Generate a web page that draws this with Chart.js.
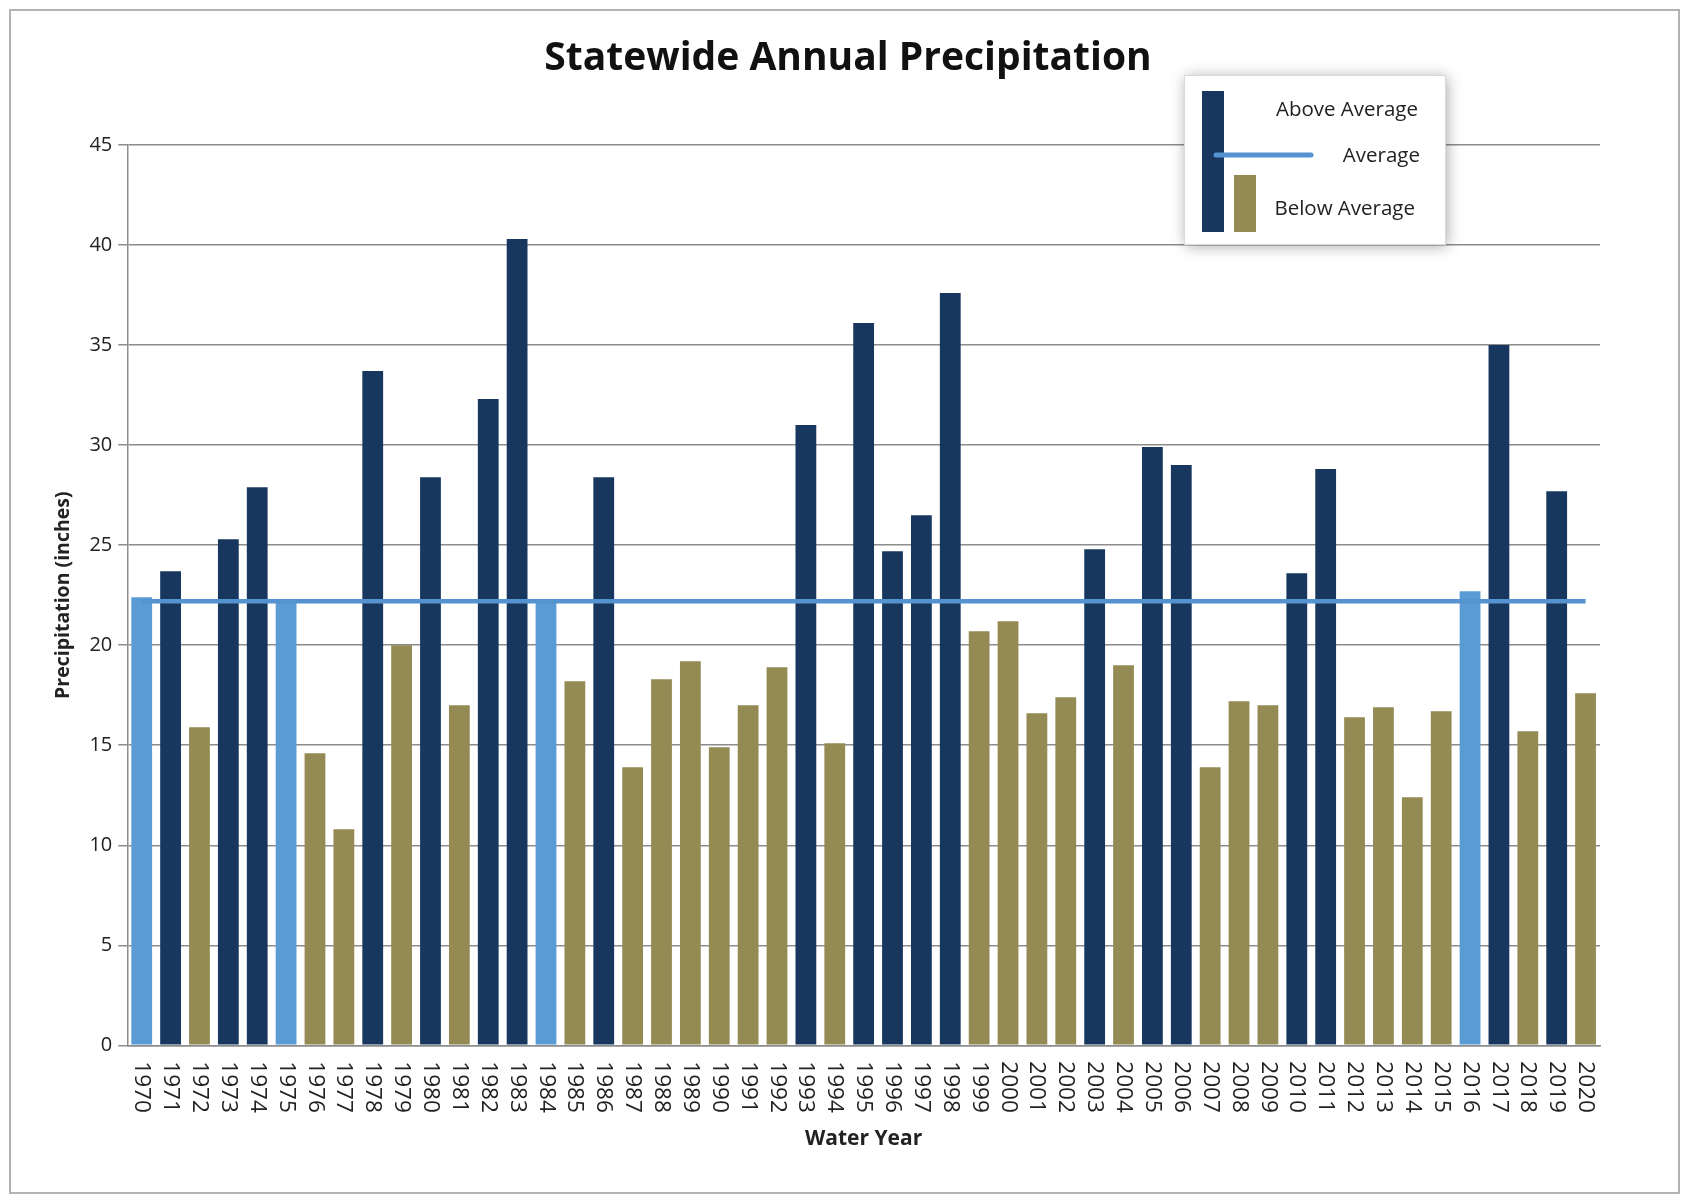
<!DOCTYPE html>
<html>
<head>
<meta charset="utf-8">
<script src="https://cdn.jsdelivr.net/npm/chart.js@4.4.1/dist/chart.umd.min.js"></script>
<style>
    body { margin: 0; background: #fff; }
    #wrap { position: relative; width: 1690px; height: 1196px; }
    #frame { position: absolute; left: 9px; top: 9px; width: 1667px; height: 1181px; border: 2px solid #b3b3b3; pointer-events: none; }
</style>
</head>
<body>
<div id="wrap"><canvas id="chartPrecip"></canvas><div id="frame"></div></div>
<script>
const years = ["1970", "1971", "1972", "1973", "1974", "1975", "1976", "1977", "1978", "1979",
    "1980", "1981", "1982", "1983", "1984", "1985", "1986", "1987", "1988", "1989",
    "1990", "1991", "1992", "1993", "1994", "1995", "1996", "1997", "1998", "1999",
    "2000", "2001", "2002", "2003", "2004", "2005", "2006", "2007", "2008", "2009",
    "2010", "2011", "2012", "2013", "2014", "2015", "2016", "2017", "2018", "2019", "2020"];
const precip = [22.4, 23.7, 15.9, 25.3, 27.9, 22.2, 14.6, 10.8, 33.7, 20.0,
    28.4, 17.0, 32.3, 40.3, 22.2, 18.2, 28.4, 13.9, 18.3, 19.2,
    14.9, 17.0, 18.9, 31.0, 15.1, 36.1, 24.7, 26.5, 37.6, 20.7,
    21.2, 16.6, 17.4, 24.8, 19.0, 29.9, 29.0, 13.9, 17.2, 17.0,
    23.6, 28.8, 16.4, 16.9, 12.4, 16.7, 22.7, 35.0, 15.7, 27.7, 17.6];
const average = 22.2;
const yTicks = [0, 5, 10, 15, 20, 25, 30, 35, 40, 45];

const colors = {
    above: '#17375E',
    below: '#948A54',
    near: '#5B9BD5',
    avgLine: '#5592D0',
    grid: '#8c8c8c'
};

// near-average years get the light blue bar
const barColors = precip.map(function (v) {
    if (Math.abs(v - average) < 0.6) { return colors.near; }
    return v > average ? colors.above : colors.below;
});

const fontFam = '"Open Sans", "DejaVu Sans", sans-serif';

// title drawn by hand so it centres on the whole frame
const titlePlugin = {
    id: 'frameTitle',
    afterDraw(chart) {
        const ctx = chart.ctx;
        ctx.save();
        ctx.fillStyle = '#111';
        ctx.font = 'bold 39px ' + fontFam;
        ctx.textAlign = 'center';
        ctx.textBaseline = 'middle';
        ctx.fillText('Statewide Annual Precipitation', 848, 59);
        ctx.restore();
    }
};

// year labels read top-to-bottom, so draw them ourselves
const yearLabelsPlugin = {
    id: 'yearLabels',
    afterDraw(chart) {
        const ctx = chart.ctx;
        const xs = chart.scales.x;
        const top = chart.chartArea.bottom + 16;
        ctx.save();
        ctx.fillStyle = '#222';
        ctx.font = '22.5px ' + fontFam;
        ctx.textAlign = 'left';
        ctx.textBaseline = 'middle';
        years.forEach(function (y, i) {
            const x = xs.getPixelForTick(i);
            ctx.save();
            ctx.translate(x, top);
            ctx.rotate(Math.PI / 2);
            ctx.fillText(y, 0, 0);
            ctx.restore();
        });
        ctx.restore();
    }
};

const boxLegendPlugin = {
    id: 'boxLegend',
    afterDraw(chart) {
        const ctx = chart.ctx;
        const bx = 1184, by = 75, bw = 261, bh = 169;
        ctx.save();
        ctx.shadowColor = 'rgba(0,0,0,0.35)';
        ctx.shadowBlur = 14;
        ctx.shadowOffsetX = 2;
        ctx.shadowOffsetY = 2;
        ctx.fillStyle = '#fff';
        ctx.fillRect(bx, by, bw, bh);
        ctx.restore();

        ctx.save();
        ctx.strokeStyle = '#d9d9d9';
        ctx.lineWidth = 1;
        ctx.strokeRect(bx + 0.5, by + 0.5, bw, bh);

        ctx.fillStyle = colors.above;
        ctx.fillRect(1202, 91, 22, 141);
        ctx.fillStyle = colors.below;
        ctx.fillRect(1234, 175, 22, 57);

        ctx.strokeStyle = colors.avgLine;
        ctx.lineWidth = 5;
        ctx.lineCap = 'round';
        ctx.beginPath();
        ctx.moveTo(1216, 155);
        ctx.lineTo(1311, 155);
        ctx.stroke();

        ctx.fillStyle = '#222';
        ctx.font = '20.5px ' + fontFam;
        ctx.textAlign = 'right';
        ctx.textBaseline = 'middle';
        ctx.fillText('Above Average', 1418, 110);
        ctx.fillText('Average', 1420, 156);
        ctx.fillText('Below Average', 1415, 209);
        ctx.restore();
    }
};

new Chart(document.getElementById('chartPrecip'), {
    type: 'bar',
    data: {
        labels: years,
        datasets: [
            {
                type: 'line',
                label: 'Average',
                data: years.map(function () { return average; }),
                borderColor: colors.avgLine,
                borderWidth: 4.5,
                pointRadius: 0,
                fill: false,
                order: 0
            },
            {
                label: 'Precipitation',
                data: precip,
                backgroundColor: barColors,
                borderWidth: 0,
                categoryPercentage: 1,
                barPercentage: 0.72,
                order: 1
            }
        ]
    },
    options: {
        responsive: true,
        maintainAspectRatio: false,
        devicePixelRatio: 1,
        animation: false,
        layout: { padding: { left: 48, right: 90, top: 145, bottom: 40 } },
        scales: {
            x: {
                grid: { display: false },
                border: { display: true, color: colors.grid, width: 1.5 },
                ticks: {
                    color: 'transparent',
                    font: { size: 22.5, family: fontFam },
                    minRotation: 90,
                    maxRotation: 90,
                    autoSkip: false,
                    padding: 10
                },
                title: {
                    display: true,
                    text: 'Water Year',
                    color: '#222',
                    font: { size: 21, weight: 'bold', family: fontFam },
                    padding: { top: 2, bottom: 4 }
                }
            },
            y: {
                min: 0,
                max: 45,
                afterBuildTicks(scale) {
                    scale.ticks = yTicks.map(function (v) { return { value: v }; });
                },
                grid: { color: colors.grid, lineWidth: 1.5, tickLength: 9 },
                border: { display: true, color: colors.grid, width: 1.5 },
                ticks: {
                    color: '#222',
                    font: { size: 20, family: fontFam },
                    padding: 6
                },
                title: {
                    display: true,
                    text: 'Precipitation (inches)',
                    color: '#222',
                    font: { size: 19.5, weight: 'bold', family: fontFam },
                    padding: { top: 4, bottom: 8 }
                }
            }
        },
        plugins: {
            legend: { display: false },
            tooltip: { enabled: false },
            title: { display: false }
        }
    },
    plugins: [titlePlugin, yearLabelsPlugin, boxLegendPlugin]
});
</script>
</body>
</html>
